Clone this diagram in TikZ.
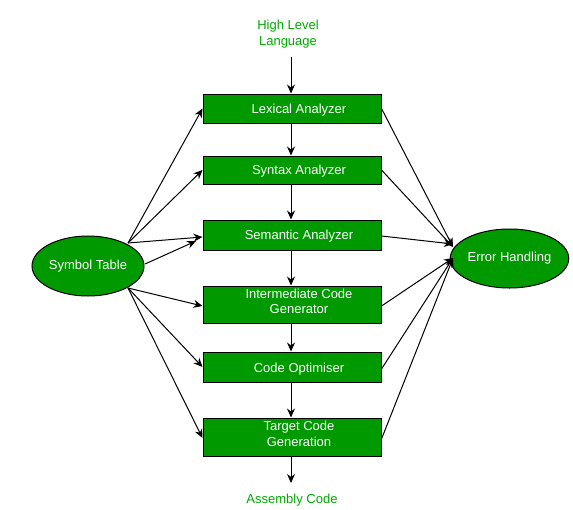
\documentclass[tikz,border=0pt]{standalone}
\usepackage{fontspec}
\setmainfont{Liberation Sans}
\usetikzlibrary{arrows.meta,shapes.geometric,calc}
\definecolor{boxgreen}{RGB}{0,153,0}
\definecolor{labgreen}{RGB}{0,170,0}
\begin{document}
\begin{tikzpicture}[x=1pt,y=-1pt,
  every node/.style={font=\fontsize{13}{15.2}\selectfont, inner sep=0pt},
  phase/.style={draw=black, line width=1pt, fill=boxgreen, minimum width=178pt},
  ptext/.style={text=white, align=center, anchor=base},
  oval/.style={draw=black, line width=1pt, fill=boxgreen, text=white, ellipse},
  lab/.style={text=labgreen, align=center, anchor=base},
  arr/.style={draw=black, line width=1pt, -{Stealth[length=9pt,width=8pt,inset=3pt]}}
]
\useasboundingbox (0,0) rectangle (573,509);
\node[lab] (hll) at (288,45) {High Level\\Language};
\node[phase,minimum height=29pt] (lex) at (292,108.5) {};
\node[phase,minimum height=28pt] (syn) at (292,170) {};
\node[phase,minimum height=30pt] (sem) at (292,235) {};
\node[phase,minimum height=37pt] (icg) at (292,304.5) {};
\node[phase,minimum height=30pt] (opt) at (292,367) {};
\node[phase,minimum height=38pt] (tcg) at (292,437) {};
\node[ptext] (lexT) at (299,113.3) {Lexical Analyzer};
\node[ptext] (synT) at (299,174.5) {Syntax Analyzer};
\node[ptext] (semT) at (299,239.5) {Semantic Analyzer};
\node[ptext] (icgT) at (299,313.3) {Intermediate Code\\Generator};
\node[ptext] (optT) at (299,372) {Code Optimiser};
\node[ptext] (tcgT) at (299,446) {Target Code\\Generation};
\node[lab] (asm) at (292,503.3) {Assembly Code};
\node[oval, minimum width=112pt, minimum height=60pt] (st) at (88,266) {Symbol Table};
\node[oval, minimum width=111pt, minimum height=59pt] (eh) at (509.5,258.5) {Error Handling};
\coordinate (hlls) at (291,57);
\coordinate (asmn) at (291,483);
\draw[arr] (hlls) -- (lex.north -| hlls);
\draw[arr] (lex.south -| hlls) -- (syn.north -| hlls);
\draw[arr] (syn.south -| hlls) -- (sem.north -| hlls);
\draw[arr] (sem.south -| hlls) -- (icg.north -| hlls);
\draw[arr] (icg.south -| hlls) -- (opt.north -| hlls);
\draw[arr] (opt.south -| hlls) -- (tcg.north -| hlls);
\draw[arr] (tcg.south -| hlls) -- (asmn);
\coordinate (stu) at (128,243);
\coordinate (stl) at (128,288);
\coordinate (str) at (145,264);
\coordinate (semx) at (196,241);
\draw[arr] (stu) -- (lex.west);
\draw[arr] (stu) -- (syn.west);
\draw[arr] (stu) -- ([yshift=-2pt]sem.west);
\draw[arr] (str) -- (semx);
\draw[arr] (stl) -- ([yshift=-1.5pt]icg.west);
\draw[arr] (stl) -- (opt.west);
\draw[arr] (stl) -- ([yshift=-1pt]tcg.west);
\coordinate (ehu) at (453,247);
\coordinate (ehl) at (453,258);
\draw[arr] (lex.east) -- (ehu);
\draw[arr] (syn.east) -- (ehu);
\draw[arr] ([yshift=-1pt]sem.east) -- ([yshift=3pt]ehu);
\draw[arr] ([yshift=-1.5pt]icg.east) -- (ehl);
\draw[arr] ([yshift=-2pt]opt.east) -- (ehl);
\draw[arr] ([yshift=-2pt]tcg.east) -- (ehl);
\end{tikzpicture}
\end{document}
